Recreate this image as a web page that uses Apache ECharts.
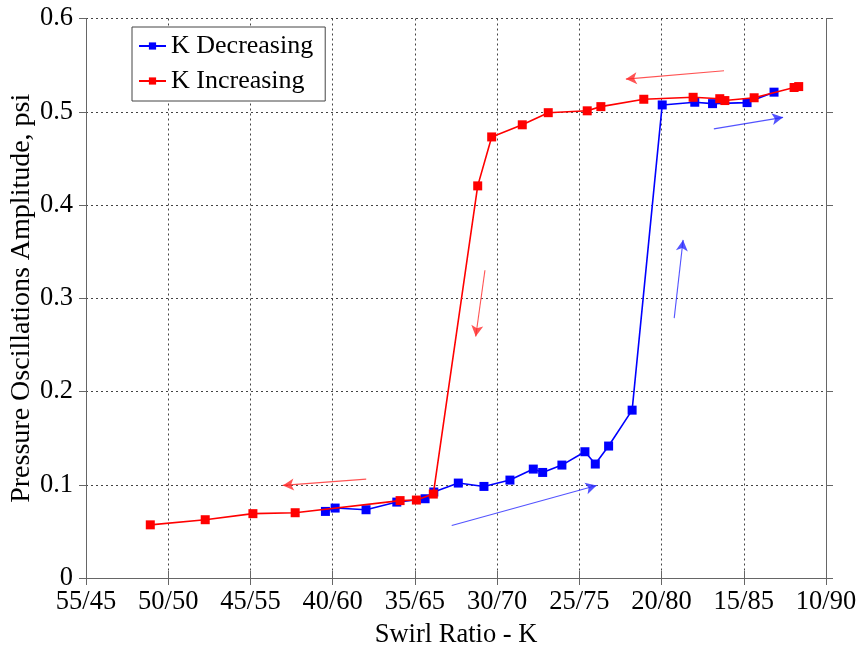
<!DOCTYPE html>
<html>
<head>
<meta charset="utf-8">
<script src="https://cdn.jsdelivr.net/npm/echarts@6/dist/echarts.min.js"></script>
<style>
  html, body { margin: 0; padding: 0; background: #fff; }
  #chart { width: 860px; height: 645px; }
</style>
</head>
<body>
<div id="chart"></div>
<script>
// Swirl ratio K (first number of the "K/100-K" label) and amplitude in psi
const decreasingK = [40.44, 39.85, 37.97, 36.10, 34.38, 33.85, 32.36, 30.80, 29.22, 27.80, 27.23, 26.06, 24.66, 24.03, 23.22, 21.79, 19.96, 17.98, 16.90, 14.80, 13.16];
const decreasingAmp = [0.0714, 0.075, 0.0732, 0.0814, 0.085, 0.0922, 0.1018, 0.0982, 0.105, 0.1168, 0.1132, 0.1211, 0.1354, 0.1222, 0.1415, 0.180, 0.5073, 0.5102, 0.5087, 0.5098, 0.521];

const increasingK = [51.09, 47.75, 44.85, 42.28, 35.90, 34.91, 33.88, 31.18, 30.33, 28.47, 26.89, 24.52, 23.69, 21.08, 18.08, 16.46, 16.15, 14.37, 11.94, 11.66];
const increasingAmp = [0.057, 0.0625, 0.069, 0.070, 0.083, 0.0836, 0.090, 0.4205, 0.473, 0.486, 0.499, 0.501, 0.5055, 0.5134, 0.5155, 0.514, 0.512, 0.515, 0.526, 0.527];

// Direction arrows: [startK, startAmp, endK, endAmp]
const increasingArrows = [
  [16.20, 0.544, 22.17, 0.535],
  [30.74, 0.330, 31.30, 0.259],
  [37.96, 0.106, 43.03, 0.0993]
];
const decreasingArrows = [
  [16.82, 0.4816, 12.61, 0.494],
  [19.23, 0.2787, 18.69, 0.3626],
  [32.76, 0.0564, 23.95, 0.0992]
];

// Axis ranges and tick step
const xMin = 10, xMax = 55, xStep = 5;
const yMin = 0, yMax = 0.6, yStep = 0.1;

const FONT = 'Liberation Serif';
const AXIS_GREY = '#666';
const GRID_GREY = '#444';

function pairs(xs, ys) { return xs.map((x, i) => [x, ys[i]]); }
function arrowLines(list) {
  return list.map(a => [{ coord: [a[0], a[1]] }, { coord: [a[2], a[3]] }]);
}

const boxAxisCommon = {
  type: 'value',
  axisLine: { show: true, lineStyle: { color: AXIS_GREY, width: 1 } },
  axisTick: { show: true, inside: false, length: 7, lineStyle: { color: AXIS_GREY } }
};

const chart = echarts.init(document.getElementById('chart'), null, { renderer: 'canvas' });
chart.setOption({
  animation: false,
  backgroundColor: '#fff',
  textStyle: { fontFamily: FONT, color: '#000' },
  grid: { left: 86, right: 34, top: 18.5, bottom: 67, containLabel: false, outerBoundsMode: 'none' },
  legend: {
    orient: 'vertical',
    left: 132,
    top: 27,
    padding: [5, 12, 6, 6],
    itemGap: 7,
    itemWidth: 27,
    itemHeight: 9,
    backgroundColor: '#fff',
    borderColor: '#444',
    borderWidth: 1,
    borderRadius: 0,
    textStyle: { fontFamily: FONT, fontSize: 26, color: '#000', lineHeight: 28 },
    data: ['K Decreasing', 'K Increasing']
  },
  xAxis: [
    Object.assign({}, boxAxisCommon, {
      position: 'bottom',
      min: xMin, max: xMax, interval: xStep, inverse: true,
      name: 'Swirl Ratio - K',
      nameLocation: 'middle',
      nameGap: 44,
      nameMoveOverlap: false,
      nameTextStyle: { fontFamily: FONT, fontSize: 26.5, color: '#000' },
      axisLabel: {
        fontFamily: FONT, fontSize: 26.5, color: '#000', margin: 11,
        formatter: v => v + '/' + (100 - v)
      },
      splitLine: { show: true, lineStyle: { color: GRID_GREY, type: [2, 3], width: 1 } }
    }),
    Object.assign({}, boxAxisCommon, {
      position: 'top',
      min: xMin, max: xMax, interval: xStep, inverse: true,
      axisLabel: { show: false },
      splitLine: { show: false }
    })
  ],
  yAxis: [
    Object.assign({}, boxAxisCommon, {
      position: 'left',
      min: yMin, max: yMax, interval: yStep,
      name: 'Pressure Oscillations Amplitude, psi',
      nameLocation: 'middle',
      nameGap: 50,
      nameMoveOverlap: false,
      nameTextStyle: { fontFamily: FONT, fontSize: 28, color: '#000' },
      axisLabel: {
        fontFamily: FONT, fontSize: 26.5, color: '#000', margin: 13,
        formatter: v => (v === 0 ? '0' : v.toFixed(1))
      },
      splitLine: { show: true, lineStyle: { color: GRID_GREY, type: [2, 3], width: 1 } }
    }),
    Object.assign({}, boxAxisCommon, {
      position: 'right',
      min: yMin, max: yMax, interval: yStep,
      axisLabel: { show: false },
      splitLine: { show: false }
    })
  ],
  series: [
    {
      name: 'K Decreasing',
      type: 'line',
      data: pairs(decreasingK, decreasingAmp),
      color: '#0000ff',
      lineStyle: { width: 1.6, color: '#0000ff' },
      symbol: 'rect',
      symbolSize: 9,
      itemStyle: { color: '#0000ff' },
      z: 3,
      markLine: {
        silent: true,
        symbol: ['none', 'arrow'],
        symbolSize: [9, 11],
        label: { show: false },
        lineStyle: { type: 'solid', width: 1.1, color: 'rgba(40,40,255,0.8)' },
        data: arrowLines(decreasingArrows)
      }
    },
    {
      name: 'K Increasing',
      type: 'line',
      data: pairs(increasingK, increasingAmp),
      color: '#ff0000',
      lineStyle: { width: 1.6, color: '#ff0000' },
      symbol: 'rect',
      symbolSize: 9,
      itemStyle: { color: '#ff0000' },
      z: 4,
      markLine: {
        silent: true,
        symbol: ['none', 'arrow'],
        symbolSize: [9, 11],
        label: { show: false },
        lineStyle: { type: 'solid', width: 1.1, color: 'rgba(255,40,40,0.8)' },
        data: arrowLines(increasingArrows)
      }
    }
  ]
});
</script>
</body>
</html>
